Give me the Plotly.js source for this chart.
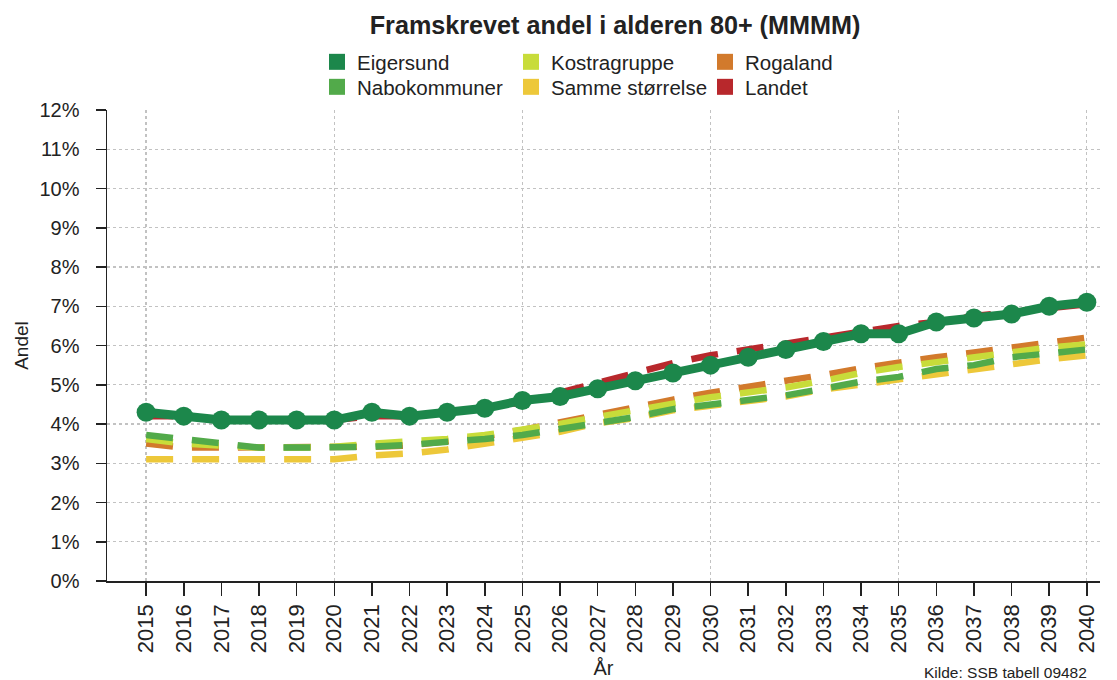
<!DOCTYPE html>
<html>
<head>
<meta charset="utf-8">
<script src="https://cdn.plot.ly/plotly-3.0.1.min.js"></script>
<style>html,body{margin:0;padding:0;background:#fff;}#chart{width:1117px;height:680px;}</style>
</head>
<body>
<div id="chart"></div>
<script>
var years = [2015,2016,2017,2018,2019,2020,2021,2022,2023,2024,2025,2026,2027,2028,2029,2030,2031,2032,2033,2034,2035,2036,2037,2038,2039,2040];
var yearLabels = ["2015","2016","2017","2018","2019","2020","2021","2022","2023","2024","2025","2026","2027","2028","2029","2030","2031","2032","2033","2034","2035","2036","2037","2038","2039","2040"];
var gridYears = [2015,2020,2025,2030,2035,2040];
var percentTicks = [0,1,2,3,4,5,6,7,8,9,10,11,12];
var percentLabels = ["0%","1%","2%","3%","4%","5%","6%","7%","8%","9%","10%","11%","12%"];

var eigersund = [4.3,4.2,4.1,4.1,4.1,4.1,4.3,4.2,4.3,4.4,4.6,4.7,4.9,5.1,5.3,5.5,5.7,5.9,6.1,6.3,6.3,6.6,6.7,6.8,7.0,7.1];
var landet = [4.2,4.2,4.1,4.1,4.1,4.1,4.2,4.2,4.3,4.4,4.55,4.8,5.05,5.3,5.55,5.75,5.9,6.05,6.2,6.35,6.5,6.6,6.75,6.85,6.95,7.05];
var rogaland = [3.5,3.4,3.4,3.4,3.4,3.4,3.42,3.45,3.55,3.68,3.85,4.05,4.25,4.42,4.62,4.8,4.95,5.07,5.25,5.42,5.57,5.7,5.82,5.95,6.1,6.2];
var samme = [3.1,3.1,3.1,3.1,3.1,3.1,3.2,3.25,3.35,3.5,3.65,3.8,4.02,4.15,4.35,4.47,4.6,4.7,4.88,5.0,5.12,5.28,5.4,5.52,5.65,5.75];
var kostra = [3.62,3.5,3.45,3.4,3.4,3.42,3.5,3.55,3.62,3.72,3.85,4.0,4.18,4.33,4.52,4.68,4.8,4.93,5.1,5.3,5.45,5.58,5.7,5.83,5.95,6.03];
var nabo = [3.72,3.6,3.48,3.4,3.4,3.4,3.42,3.47,3.53,3.62,3.72,3.87,4.05,4.18,4.38,4.5,4.63,4.73,4.9,5.08,5.2,5.4,5.5,5.7,5.8,5.9];

var colors = {"Eigersund":"#1c874b","Nabokommuner":"#52aa4a","Kostragruppe":"#c8dc3a","Samme størrelse":"#edc83a","Rogaland":"#d27a2c","Landet":"#b8282c"};

var dashStyle = "27px,19px";
function dashed(name, vals){
  return {x: years, y: vals, type:"scatter", mode:"lines", name:name, showlegend:false,
    line:{color:colors[name], width:6.5, dash:dashStyle}, hoverinfo:"skip"};
}
var traces = [
  dashed("Rogaland", rogaland),
  dashed("Landet", landet),
  dashed("Samme størrelse", samme),
  dashed("Kostragruppe", kostra),
  dashed("Nabokommuner", nabo),
  {x: years, y: eigersund, type:"scatter", mode:"lines+markers", name:"Eigersund", showlegend:false,
   line:{color:colors["Eigersund"], width:9}, marker:{color:colors["Eigersund"], size:19}},
  {x:[null], y:[null], xaxis:"x2", type:"scatter", mode:"lines", showlegend:false, hoverinfo:"skip"}
];
var row1 = ["Eigersund","Kostragruppe","Rogaland"];
var row2 = ["Nabokommuner","Samme størrelse","Landet"];
row1.forEach(function(n){traces.push({x:[null],y:[null],type:"scatter",mode:"markers",name:n,legend:"legend",
  marker:{symbol:"square",size:16,color:colors[n]},showlegend:true});});
row2.forEach(function(n){traces.push({x:[null],y:[null],type:"scatter",mode:"markers",name:n,legend:"legend2",
  marker:{symbol:"square",size:16,color:colors[n]},showlegend:true});});

var font = "Arial, 'Liberation Sans', sans-serif";
var legendCommon = {orientation:"h", xref:"container", yref:"container", x:317/1117, xanchor:"left",
  yanchor:"middle", font:{family:font, size:20.5, color:"#222"}, entrywidth:149, entrywidthmode:"pixels",
  bgcolor:"rgba(0,0,0,0)", itemclick:false, itemdoubleclick:false, tracegroupgap:0};
var legend1 = Object.assign({}, legendCommon, {y:1-62/680});
var legend2 = Object.assign({}, legendCommon, {y:1-87/680});

var gridColor = "#c2c2c2";
var layout = {
  width:1117, height:680,
  margin:{l:107, r:17, t:110, b:99},
  paper_bgcolor:"#fff", plot_bgcolor:"#fff",
  font:{family:font, color:"#222"},
  title:{text:"<b>Framskrevet andel i alderen 80+ (MMMM)</b>", xref:"container", yref:"container",
    x:615/1117, xanchor:"center", y:1-25/680, yanchor:"middle", font:{family:font, size:25.2, color:"#222"}},
  xaxis:{range:[2013.96,2040.35], tickmode:"array", tickvals:years, ticktext:yearLabels, tickangle:-90,
    ticks:"outside", ticklen:13, tickcolor:"#222", tickwidth:1.5, showline:true, linecolor:"#222", linewidth:1.5,
    showgrid:false, zeroline:false, tickfont:{family:font, size:22, color:"#222"},
    title:{text:"År", font:{family:font, size:20, color:"#222"}, standoff:8}},
  xaxis2:{range:[2013.96,2040.35], overlaying:"x", side:"bottom", tickmode:"array", tickvals:gridYears,
    showticklabels:false, ticks:"", showgrid:true, gridcolor:gridColor, griddash:"dot", gridwidth:1.3,
    zeroline:false, showline:false},
  yaxis:{range:[0,12], tickmode:"array", tickvals:percentTicks, ticktext:percentLabels, ticks:"outside", ticklen:10,
    tickcolor:"#222", tickwidth:1.5, showline:true, linecolor:"#222", linewidth:1.5, showgrid:true,
    gridcolor:gridColor, griddash:"dot", gridwidth:1.3, zeroline:false, ticklabelstandoff:12,
    tickfont:{family:font, size:20, color:"#222"},
    title:{text:"Andel", font:{family:font, size:19, color:"#222"}, standoff:6}},
  legend:legend1,
  legend2:legend2,
  annotations:[{text:"Kilde: SSB tabell 09482", xref:"paper", yref:"paper", x:(1089-107)/993, xanchor:"right",
    y:-(672-581)/471, yanchor:"middle", showarrow:false, font:{family:font, size:15.5, color:"#222"}}]
};
Plotly.newPlot("chart", traces, layout, {displayModeBar:false, staticPlot:true});
</script>
</body>
</html>
